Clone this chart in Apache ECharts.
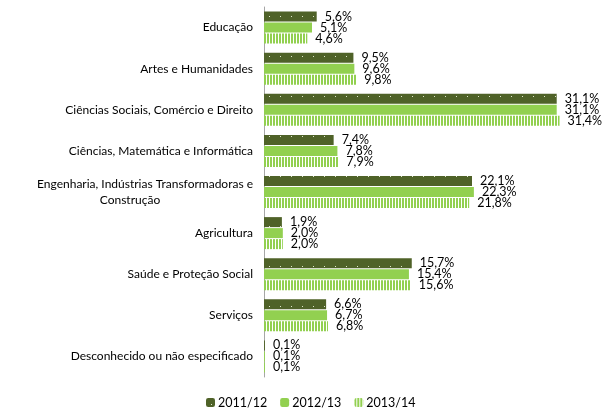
<!DOCTYPE html>
<html><head><meta charset="utf-8">
<script src="https://cdn.jsdelivr.net/npm/echarts@6/dist/echarts.min.js"></script>
<style>html,body{margin:0;padding:0;background:#fff}#c{width:604px;height:410px}</style>
</head><body><div id="c"></div>
<script>
const categories = ["Educação","Artes e Humanidades","Ciências Sociais, Comércio e Direito","Ciências, Matemática e Informática","Engenharia, Indústrias Transformadoras e Construção","Agricultura","Saúde e Proteção Social","Serviços","Desconhecido ou não especificado"];
const seriesNames = ["2011/12","2012/13","2013/14"];
const s2011 = [5.6, 9.5, 31.1, 7.4, 22.1, 1.9, 15.7, 6.6, 0.1];
const s2012 = [5.1, 9.6, 31.1, 7.8, 22.3, 2.0, 15.4, 6.7, 0.1];
const s2013 = [4.6, 9.8, 31.4, 7.9, 21.8, 2.0, 15.6, 6.8, 0.1];

function pat(w,h,draw){const c=document.createElement('canvas');c.width=w;c.height=h;const x=c.getContext('2d');draw(x);return {image:c,repeat:'repeat'};}
const dotted = pat(11,10,x=>{x.fillStyle='#4f6228';x.fillRect(0,0,11,10);x.fillStyle='#dfe8cc';x.fillRect(5,6,1,1);});
const striped = pat(3,4,x=>{x.fillStyle='#ffffff';x.fillRect(0,0,3,4);x.fillStyle='#92d050';x.fillRect(0,0,2,4);});
const FONT = 'Lato';
const chart = echarts.init(document.getElementById('c'));
const fmt = p => p.value.toFixed(1).replace('.', ',') + '%';
function mk(name,data,color){
  return {name, type:'bar', data, barWidth:10, barGap:'10%',
    itemStyle:{color},
    label:{show:true, position:'right', distance:8, formatter:fmt, color:'#000', fontFamily:FONT, fontSize:12.5}};
}
chart.setOption({
  animation:false,
  grid:{left:264, right:36, top:7, height:370, containLabel:false},
  legend:{top:391, left:201, itemWidth:9, itemHeight:9, itemGap:13, textStyle:{fontFamily:FONT, fontSize:12.5, color:'#000', padding:[0,0,0,-2]},
    data:seriesNames},
  xAxis:{type:'value', min:0, max:32.3, show:false},
  yAxis:{type:'category', inverse:true, data:categories,
    axisLine:{lineStyle:{color:'#a6a6a6'}}, axisTick:{show:false},
    axisLabel:{margin:11, fontFamily:FONT, fontSize:12, color:'#000', lineHeight:16,
      formatter:v=> v.startsWith('Engenharia') ? '{a|Engenharia, Indústrias Transformadoras e}\n{b|Construção}' : v,
      rich:{a:{fontFamily:FONT,fontSize:12,color:'#000',lineHeight:16}, b:{fontFamily:FONT,fontSize:12,color:'#000',lineHeight:16,width:246,align:'center'}}}},
  series:[mk(seriesNames[0],s2011,dotted), mk(seriesNames[1],s2012,'#92d050'), mk(seriesNames[2],s2013,striped)]
});
</script></body></html>
